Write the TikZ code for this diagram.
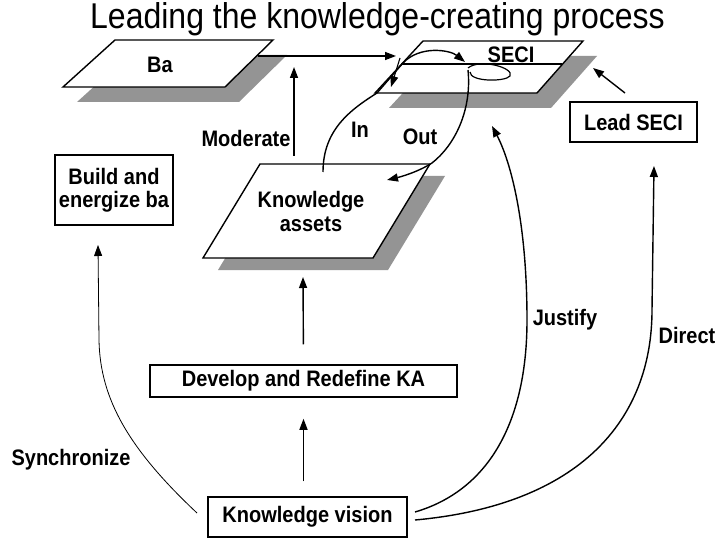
\documentclass[tikz,border=0pt]{standalone}
\usepackage{fontspec}
\setmainfont{Liberation Sans}
\usetikzlibrary{arrows.meta}
\newcommand{\tallx}[1]{\scalebox{1}[1.12]{#1}}
\begin{document}
\begin{tikzpicture}[x=1pt,y=-1pt,
  lbl/.style={font=\bfseries\fontsize{20}{22}\selectfont, inner sep=0pt},
  box/.style={draw, line width=1.5pt, fill=white, inner sep=0pt, lbl},
  arr/.style={line width=1.4pt, -{Triangle[length=11pt,width=8pt]}},
  thinarr/.style={line width=0.8pt, -{Triangle[length=11pt,width=8pt]}},
  plate/.style={draw, line width=1.4pt, fill=white, line join=miter},
  shade/.style={fill=black!42}]
\useasboundingbox[fill=white] (0,0) rectangle (720,540);

% title
\node[anchor=base, inner sep=0pt, font=\fontsize{32}{34}\selectfont] (title) at (377.5,29) {\tallx{Leading the knowledge-creating process}};

% Ba plate
\fill[shade] (129,55) -- (287,55) -- (239,102) -- (77,102) -- cycle;
\draw[plate] (115,40) -- (273,40) -- (225,87) -- (63,87) -- cycle;
\node[lbl] (ba) at (160,65) {\tallx{Ba}};

% SECI plate
\fill[shade] (437,56) -- (597,56) -- (551,108) -- (389,108) -- cycle;
\draw[plate] (423,41) -- (583,41) -- (537,93) -- (375,93) -- cycle;
\draw[line width=1.4pt] (401,64) -- (562,64);
\node[lbl] (seci) at (511,55) {\tallx{SECI}};

% Knowledge assets plate
\fill[shade] (275,176) -- (445,176) -- (388,270) -- (218,270) -- cycle;
\draw[plate] (260,164) -- (430,164) -- (373,258) -- (203,258) -- cycle;
\node[lbl, align=center] (ka) at (311,211) {\tallx{Knowledge}\\[2pt]\tallx{assets}};

% boxes
\node[box, minimum width=118pt, minimum height=70pt, align=center] (build) at (114,190) {\tallx{Build and}\\[1pt]\tallx{energize ba}};
\node[box, minimum width=307pt, minimum height=32pt] (dev) at (303.5,381) {\tallx{Develop and Redefine KA}};
\node[box, minimum width=199pt, minimum height=40pt] (kv) at (307.5,517) {\tallx{Knowledge vision}};
\node[box, minimum width=127pt, minimum height=40pt] (lead) at (633.5,122) {\tallx{Lead SECI}};

% labels
\node[lbl] (lmod) at (246,138) {\tallx{Moderate}};
\node[lbl] (lin) at (360,130) {\tallx{In}};
\node[lbl] (lout) at (420,137) {\tallx{Out}};
\node[lbl] (lsync) at (71,460) {\tallx{Synchronize}};
\node[lbl] (ljus) at (565,320) {\tallx{Justify}};
\node[lbl] (ldir) at (687,335) {\tallx{Direct}};

% coordinates
\coordinate (baR) at (258,56);
\coordinate (seciL) at (396,56);
\coordinate (modT) at (294,156);
\coordinate (modH) at (294,67);
\coordinate (devH) at (303,277);
\coordinate (syncS) at (197,513);
\coordinate (syncH) at (98,245);
\coordinate (jusS) at (415,512);
\coordinate (jusH) at (492,126);
\coordinate (dirS) at (415,520);
\coordinate (dirH) at (654,166);
\coordinate (leadT) at (625,93);
\coordinate (leadH) at (593,68);
\coordinate (inS) at (323,172);
\coordinate (inH) at (465,62);
\coordinate (outS) at (468,70);
\coordinate (outH) at (387,180);
\coordinate (spT) at (400,58);
\coordinate (spH) at (391,87);

% connectors
\draw[arr] (baR) -- (seciL);
\draw[arr] (modT) -- (modH);
\draw[arr, shorten <=15pt, shorten >=21pt] (dev.south |- kv.north) -- (dev.south);
\draw[arr, shorten <=20pt] (dev.north) -- (devH);
\draw[thinarr] (syncS) .. controls (130,450) and (100,400) .. (99,340) -- (syncH);
\draw[arr] (jusS) .. controls (490,490) and (527,420) .. (527,320) .. controls (527,220) and (510,160) .. (jusH);
\draw[arr] (dirS) .. controls (580,505) and (652,420) .. (652,310) -- (dirH);
\draw[arr] (leadT) -- (leadH);
\draw[arr] (inS) .. controls (323,130) and (350,110) .. (377,93) -- (403,63) .. controls (420,45) and (450,50) .. (inH);
\draw[arr, line width=1.1pt] (spT) -- (spH);
\draw[arr] (outS) .. controls (472,110) and (455,145) .. (432,163) .. controls (418,172) and (400,177) .. (outH);
\draw[line width=1.2pt] (468,68) .. controls (480,58) and (515,68) .. (510,76) .. controls (505,82) and (470,82) .. (470,72);
\end{tikzpicture}
\end{document}
